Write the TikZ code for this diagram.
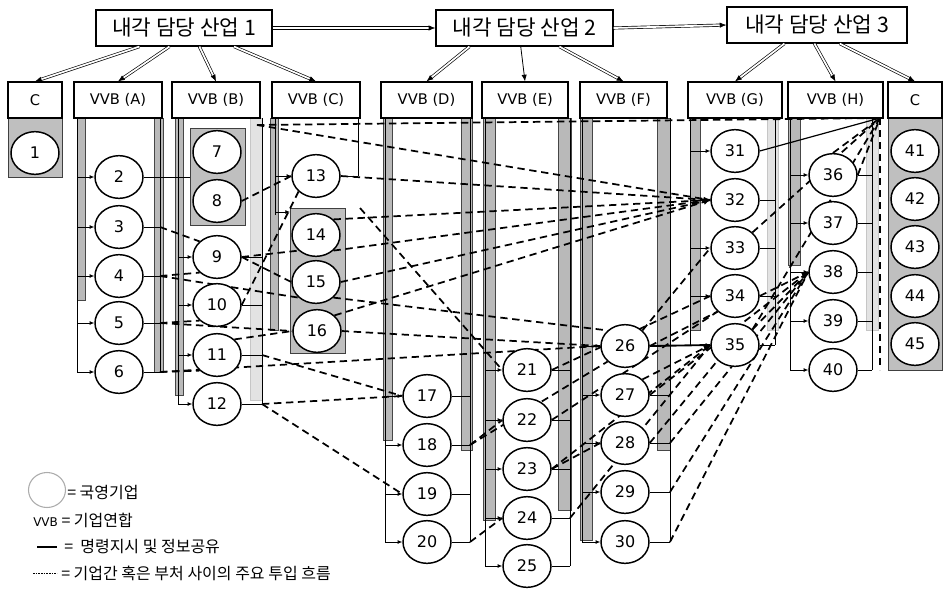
\documentclass[tikz,border=0pt]{standalone}
\usepackage{fontspec}
\setmainfont{DejaVu Sans}
\newfontfamily\krfont{Noto Sans CJK KR}
\usetikzlibrary{arrows.meta,shapes.geometric}
\pgfdeclarelayer{back}
\pgfdeclarelayer{mid}
\pgfsetlayers{back,mid,main}
\begin{document}
\begin{tikzpicture}[x=0.75pt,y=-0.75pt,
  topbox/.style={draw,line width=0.9pt,fill=white,minimum height=27pt,inner sep=0pt,font=\krfont\fontsize{16}{16}\selectfont},
  vvbbox/.style={draw,line width=0.9pt,fill=white,minimum height=27pt,inner sep=0pt,font=\fontsize{11}{11}\selectfont},
  ent/.style={ellipse,draw,line width=1.1pt,fill=white,minimum width=36pt,minimum height=32pt,inner sep=0pt,font=\fontsize{12}{12}\selectfont},
  band/.style={fill=gray!55,draw=gray!55!black,line width=0.3pt},
  lband/.style={fill=gray!22,draw=gray!45,line width=0.3pt},
  shadebox/.style={fill=gray!50,draw=black!75,line width=0.6pt},
  tree/.style={draw,line width=0.6pt},
  br/.style={tree,-{Latex[length=3.5pt,width=3pt]}},
  dl/.style={draw,line width=1.3pt,dash pattern=on 5.5pt off 3.5pt},
  dla/.style={dl,-{Latex[length=5pt,width=4.5pt]}},
  dbl/.style={draw,line width=0.5pt,double,double distance=1.3pt,-{Latex[length=5pt,width=4pt]}},
  leg/.style={anchor=west,inner sep=0pt,font=\krfont\fontsize{12}{12}\selectfont}
]
\useasboundingbox (0,0) rectangle (946,590);

% top boxes
\node[topbox,minimum width=132pt] (t1) at (184,28) {내각 담당 산업 1};
\node[topbox,minimum width=132.75pt] (t2) at (524.5,28) {내각 담당 산업 2};
\node[topbox,minimum width=135pt] (t3) at (817,25) {내각 담당 산업 3};

% second row
\node[vvbbox,minimum width=40.5pt] (cl) at (35,100) {C};
\node[vvbbox,minimum width=66pt] (va) at (118,100) {VVB (A)};
\node[vvbbox,minimum width=66pt] (vb) at (216,100) {VVB (B)};
\node[vvbbox,minimum width=66pt] (vc) at (316,100) {VVB (C)};
\node[vvbbox,minimum width=68.25pt] (vd) at (426.5,100) {VVB (D)};
\node[vvbbox,minimum width=64.5pt] (ve) at (525,100) {VVB (E)};
\node[vvbbox,minimum width=65.25pt] (vf) at (623.5,100) {VVB (F)};
\node[vvbbox,minimum width=70.5pt] (vg) at (735,100) {VVB (G)};
\node[vvbbox,minimum width=71.25pt] (vh) at (835.5,100) {VVB (H)};
\node[vvbbox,minimum width=40.5pt] (cr) at (915,100) {C};

% enterprises
\foreach \i/\px/\py in {1/35/153,
  2/119/177,3/119/227,4/119/276,5/119/323,6/119/372,
  7/217/152,8/217/201,9/217/257,10/217/305,11/217/355,12/217/404,
  13/316/176,14/316/235,15/316/282,16/317/331,
  17/427/396,18/427/445,19/427/494,20/427/542,
  21/527/370,22/527/420,23/527/469,24/527/518,25/527/566,
  26/625/346,27/625/395,28/625/443,29/625/492,30/625/542,
  31/735/151,32/735/200,33/735/248,34/735/296,35/735/345,
  36/833/175,37/833/223,38/833/272,39/833/321,40/833/370,
  41/915/151,42/915/199,43/915/247,44/915/296,45/915/344}
  \node[ent] (n\i) at (\px,\py) {\i};

% rail coordinates
\coordinate (Al) at (77,118);  \coordinate (Ar) at (160,118);
\coordinate (Bl) at (178,118); \coordinate (Br) at (262,118);
\coordinate (Cl) at (275,118); \coordinate (Cr) at (358,118);
\coordinate (Dl) at (385,118); \coordinate (Dr) at (470,118);
\coordinate (El) at (485,118); \coordinate (Er) at (570,118);
\coordinate (Fl) at (582,118); \coordinate (Fr) at (670,118);
\coordinate (Gl) at (690,118); \coordinate (Gr) at (775,118);
\coordinate (Hl) at (790,118); \coordinate (Hr) at (872,118);
\coordinate (bt) at (257,125);
\coordinate (q) at (880,118);
\coordinate (c14) at (360,208);
\coordinate (bx78) at (190,128);

\begin{pgfonlayer}{back}
  \draw[shadebox] (8,118) rectangle (62,177);
  \draw[shadebox] (888,118) rectangle (942,370);
  \draw[shadebox] (190,128) rectangle (245,225);
  \draw[shadebox] (290,208) rectangle (345,353);
  \draw[band] (77,118) rectangle (85,300);
  \draw[band] (154,118) rectangle (163,372);
  \draw[band] (175,118) rectangle (183,395);
  \draw[lband] (250,118) rectangle (262,400);
  \draw[band] (270,118) rectangle (278,330);
  \draw[band] (383,118) rectangle (392,440);
  \draw[band] (461,118) rectangle (472,450);
  \draw[band] (483,118) rectangle (495,520);
  \draw[band] (558,118) rectangle (571,510);
  \draw[band] (580,118) rectangle (592,540);
  \draw[band] (657,118) rectangle (670,450);
  \draw[band] (690,118) rectangle (700,330);
  \draw[lband] (767,118) rectangle (778,330);
  \draw[band] (788,118) rectangle (800,265);
  \draw[lband] (866,118) rectangle (878,330);
\end{pgfonlayer}

\begin{pgfonlayer}{mid}
  % tree structures (solid)
  \draw[tree] (Al) -- (Al |- n6.west);
  \foreach \i in {2,...,6} \draw[br] (n\i.west -| Al) -- (n\i.west);
  \draw[tree] (Ar) -- (Ar |- n6.east);
  \foreach \i in {3,...,6} \draw[tree] (n\i.east) -- (n\i.east -| Ar);
  \draw[tree] (n2.east) -- (n2.east -| bx78);
  \draw[tree] (Bl) -- (Bl |- n12.west);
  \foreach \i in {9,...,12} \draw[br] (n\i.west -| Bl) -- (n\i.west);
  \draw[tree] (Br) -- (Br |- n12.east);
  \foreach \i in {9,...,12} \draw[tree] (n\i.east) -- (n\i.east -| Br);
  \draw[tree] (Cl) -- (275,215);
  \draw[br] (n13.west -| Cl) -- (n13.west);
  \draw[br] (275,212) -- (290,212);
  \draw[tree] (Cr) -- (Cr |- n13.east);
  \draw[tree] (n13.east) -- (n13.east -| Cr);
  \draw[tree] (Dl) -- (Dl |- n20.west);
  \foreach \i in {17,...,20} \draw[br] (n\i.west -| Dl) -- (n\i.west);
  \draw[tree] (Dr) -- (Dr |- n20.east);
  \foreach \i in {17,...,20} \draw[tree] (n\i.east) -- (n\i.east -| Dr);
  \draw[tree] (El) -- (El |- n25.west);
  \foreach \i in {21,...,25} \draw[br] (n\i.west -| El) -- (n\i.west);
  \draw[tree] (Er) -- (Er |- n25.east);
  \foreach \i in {21,...,25} \draw[tree] (n\i.east) -- (n\i.east -| Er);
  \draw[tree] (Fl) -- (Fl |- n30.west);
  \foreach \i in {26,...,30} \draw[br] (n\i.west -| Fl) -- (n\i.west);
  \draw[tree] (Fr) -- (Fr |- n30.east);
  \foreach \i in {27,...,30} \draw[tree] (n\i.east) -- (n\i.east -| Fr);
  \draw[tree] (Gl) -- (Gl |- n35.west);
  \foreach \i in {31,...,35} \draw[br] (n\i.west -| Gl) -- (n\i.west);
  \draw[tree] (Gr) -- (Gr |- n35.east);
  \foreach \i in {32,...,35} \draw[tree] (n\i.east) -- (n\i.east -| Gr);
  \draw[tree] (Hl) -- (Hl |- n40.west);
  \foreach \i in {36,...,40} \draw[br] (n\i.west -| Hl) -- (n\i.west);
  \draw[tree] (Hr) -- (Hr |- n40.east);
  \foreach \i in {36,...,40} \draw[tree] (n\i.east) -- (n\i.east -| Hr);
  \draw[tree,line width=0.9pt] (n31.east) -- (q);
  \draw[tree,line width=1.4pt] (n26.east) -- (n35.west);

  % dashed input flows
  \draw[dl] (bt) -- (q);
  \draw[dl] (bt) -- (n32.west);
  \draw[dla] (n13.east) -- (n32.west);
  \draw[dl] (n14.north east) -- (n32.west);
  \draw[dl] (n14.south east) -- (n32.west);
  \draw[dl] (n15.east) -- (n32.west);
  \draw[dla] (n16.north east) -- (n32.west);
  \draw[dl] (n15.south east) -- (n26.north west);
  \draw[dl] (n16.east) -- (n26.west);
  \draw[dl] (n3.east -| Ar) -- (n9.north west);
  \draw[dl] (n9.east) -- (n15.west);
  \draw[dl] (n4.east -| Ar) -- (n9.south west);
  \draw[dl] (n4.east -| Ar) -- (n15.south west);
  \draw[dl] (n5.east -| Ar) -- (n10.south west);
  \draw[dl] (n5.east -| Ar) -- (n16.west);
  \draw[dl] (n6.east -| Ar) -- (n11.south west);
  \draw[dl] (n6.east -| Ar) -- (n26.west);
  \draw[dl] (n10.east) -- (n13.south west);
  \draw[dl] (n11.north east) -- (n16.west);
  \draw[dl] (n11.east -| Br) -- (n17.west);
  \draw[dl] (n12.east -| Br) -- (n17.west);
  \draw[dl] (n12.east -| Br) -- (n19.west);
  \draw[dl] (c14) -- (n21.west);
  \draw[dl] (n8.east) -- (n13.west);
  \draw[dl] (n9.east) -- (n14.south west);
  \draw[dl] (n18.east -| Dr) -- (n22.west);
  \draw[dl] (n18.east -| Dr) -- (n26.south west);
  \draw[dl] (n20.east -| Dr) -- (n24.west);
  \draw[dl] (n21.east) -- (n34.west);
  \draw[dl] (n22.east) -- (n34.south west);
  \draw[dl] (n23.east) -- (n28.west);
  \draw[dl] (n23.east) -- (n35.west);
  \draw[dl] (n24.east -| Er) -- (n35.west);
  \draw[dl] (n26.north east) -- (n33.west);
  \draw[dl] (n26.east) -- (n34.south west);
  \draw[dl] (n27.east) -- (n38.west);
  \draw[dla] (n27.north east) -- (n35.west);
  \draw[dl] (n28.east -| Fr) -- (n38.west);
  \draw[dl] (n28.east) -- (n35.south west);
  \draw[dl] (n29.east -| Fr) -- (n38.west);
  \draw[dl] (n30.east -| Fr) -- (n38.west);
  \draw[dla] (n34.east) -- (n38.west);
  \draw[dl] (n35.north east) -- (n38.west);
  \draw[dl] (n33.north east) -- (q);
  \draw[dl] (n35.north east) -- (q);
  \draw[dl] (n36.north) -- (q);
  \draw[dl] (n36.east) -- (q);
  \draw[dl] (q) -- (q |- n40.east);
\end{pgfonlayer}

% connectors from ministries
\draw[dbl] ([xshift=33pt]t1.south west) -- (cl.north);
\draw[dbl] ([xshift=55.5pt]t1.south west) -- (va.north);
\draw[dbl] ([xshift=78pt]t1.south west) -- (vb.north);
\draw[dbl] ([xshift=104pt]t1.south west) -- (vc.north);
\draw[dbl] ([xshift=25.5pt]t2.south west) -- (vd.north);
\draw[tree,-{Latex[length=5pt,width=4pt]}] ([xshift=64pt]t2.south west) -- (ve.north);
\draw[dbl] ([xshift=93pt]t2.south west) -- (vf.north);
\draw[dbl] ([xshift=43.5pt]t3.south west) -- (vg.north);
\draw[dbl] ([xshift=66pt]t3.south west) -- (vh.north);
\draw[dbl] ([xshift=85pt]t3.south west) -- (cr.north);
\draw[dbl] (t1.east) -- (t2.west);
\draw[dbl] (t2.east) -- (t3.west);

% legend
\coordinate (lgc) at (47,490);
\draw[draw=gray!65,fill=white,line width=0.8pt] (lgc) ellipse [x radius=18.5, y radius=17.5];
\node[leg] (lg1) at (67,492) {= 국영기업};
\node[leg] (lg2) at (33,520) {{\fontspec{DejaVu Sans}\fontsize{9}{9}\selectfont VVB} = 기업연합};
\coordinate (s1) at (37,547); \coordinate (s2) at (57,547);
\draw[line width=1.2pt] (s1) -- (s2);
\node[leg] (lg3) at (64,547) {=\ \ 명령지시 및 정보공유};
\coordinate (s3) at (33,573); \coordinate (s4) at (57,573);
\draw[line width=0.6pt,dash pattern=on 1.2pt off 0.8pt] (s3) -- (s4);
\node[leg] (lg4) at (61,573) {= 기업간 혹은 부처 사이의 주요 투입 흐름};
\end{tikzpicture}
\end{document}
